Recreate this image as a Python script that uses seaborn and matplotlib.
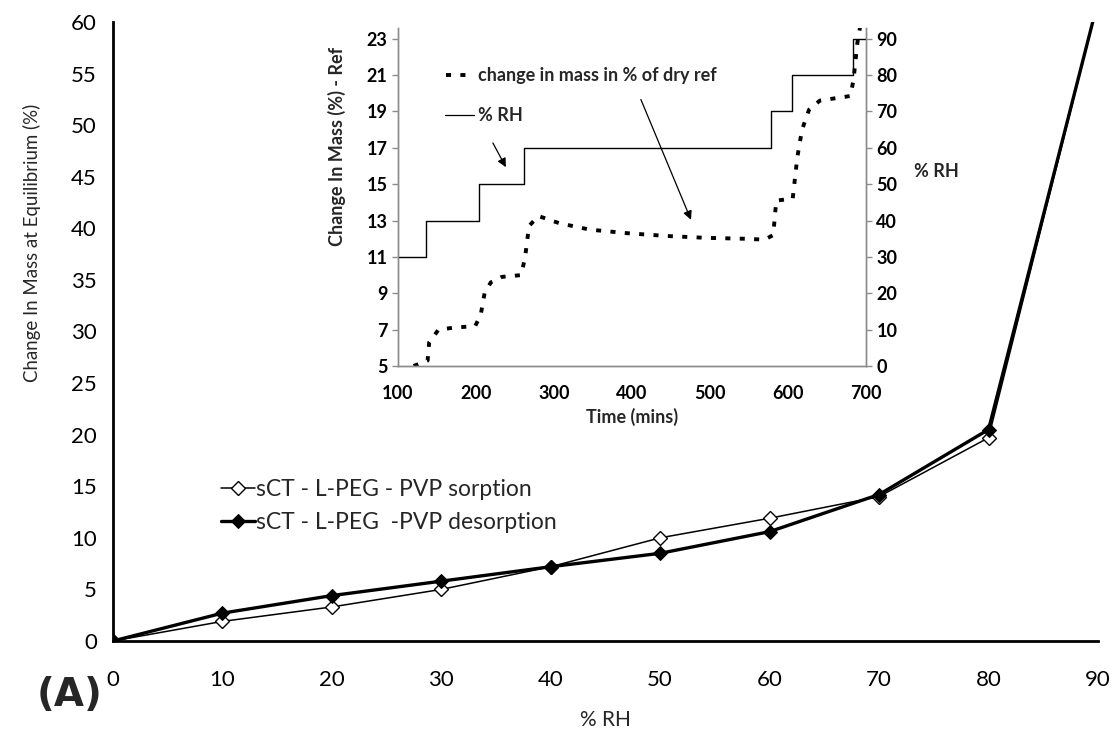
import matplotlib
matplotlib.use("Agg")
import matplotlib.pyplot as plt
import seaborn as sns
import pandas as pd
from matplotlib.lines import Line2D

# ---- main chart data ----
rh = [0, 10, 20, 30, 40, 50, 60, 70, 80, 90]
sorption = [0, 1.9, 3.3, 5.0, 7.2, 10.0, 11.9, 14.0, 19.7, 62]
desorption = [0, 2.7, 4.4, 5.8, 7.2, 8.5, 10.6, 14.2, 20.5, 62]
main_xticks = [0, 10, 20, 30, 40, 50, 60, 70, 80, 90]
main_yticks = [0, 5, 10, 15, 20, 25, 30, 35, 40, 45, 50, 55, 60]

# ---- inset data ----
step_time = [100, 136, 204, 261, 578, 605, 683, 700]
step_rh = [30, 40, 50, 60, 70, 80, 90, 90]
mass_time = [120, 138, 140, 152, 170, 199, 206, 211, 219, 233, 258, 263, 268, 280,
             307, 346, 395, 445, 494, 543, 570, 581, 585, 606, 612, 618, 627, 641,
             680, 684, 689, 693]
mass_change = [5.0, 5.3, 6.3, 7.0, 7.1, 7.2, 7.8, 9.0, 9.6, 9.9, 10.0, 11.0, 12.7, 13.25,
               12.85, 12.5, 12.3, 12.15, 12.05, 12.0, 11.95, 12.2, 14.1, 14.2, 16.5, 18.0,
               19.1, 19.6, 19.85, 20.75, 22.8, 23.8]
inset_xticks = [100, 200, 300, 400, 500, 600, 700]
inset_yticks = [5, 7, 9, 11, 13, 15, 17, 19, 21, 23]
inset_rticks = [0, 10, 20, 30, 40, 50, 60, 70, 80, 90]

sns.set_style("white")
plt.rcParams["font.family"] = ["Lato", "DejaVu Sans"]

fig = plt.figure(figsize=(11.17, 7.32), dpi=100)
ax = fig.add_axes([0.101, 0.1243, 0.882, 0.8457])

df_s = pd.DataFrame({"rh": rh, "v": sorption})
df_d = pd.DataFrame({"rh": rh, "v": desorption})
sns.lineplot(data=df_s, x="rh", y="v", ax=ax, color="black", lw=1.1, marker="D",
             markersize=7.5, markerfacecolor="white", markeredgecolor="black",
             markeredgewidth=1.0, estimator=None, label="sCT - L-PEG - PVP sorption")
sns.lineplot(data=df_d, x="rh", y="v", ax=ax, color="black", lw=2.4, marker="D",
             markersize=7.5, markerfacecolor="black", markeredgecolor="black",
             estimator=None, label="sCT - L-PEG  -PVP desorption")

ax.set_xlim(0, 90)
ax.set_ylim(0, 60)
ax.set_xticks(main_xticks)
ax.set_yticks(main_yticks)
for s in ["top", "right"]:
    ax.spines[s].set_visible(False)
for s in ["left", "bottom"]:
    ax.spines[s].set_color("black")
    ax.spines[s].set_linewidth(2.0)
ax.tick_params(axis="x", direction="out", length=7, width=1.2, pad=14, labelsize=16, colors="black")
ax.tick_params(axis="y", direction="out", length=5.5, width=1.2, pad=6, labelsize=16, colors="black")
ax.set_xlabel("% RH", fontsize=15, labelpad=14)
ax.set_ylabel("Change In Mass at Equilibrium (%)", fontsize=13.4)
ax.yaxis.set_label_coords(-0.073, 0.643)

leg = ax.legend(loc="upper left", bbox_to_anchor=(0.1, 0.277), frameon=False,
                fontsize=16.5, handlelength=1.5, handletextpad=0.05, labelspacing=0.55,
                borderaxespad=0)

fig.text(0.062, 0.05, "(A)", fontsize=28, fontweight="bold", ha="center", va="center",
         family="DejaVu Sans")

# ---- inset ----
ax2 = fig.add_axes([0.3563, 0.5, 0.4190, 0.462])
ax3 = ax2.twinx()
df_m = pd.DataFrame({"t": mass_time, "m": mass_change})
df_r = pd.DataFrame({"t": step_time, "r": step_rh})
sns.lineplot(data=df_m, x="t", y="m", ax=ax2, color="black", lw=2.8,
             linestyle=(0, (1.3, 2.4)), estimator=None)
sns.lineplot(data=df_r, x="t", y="r", ax=ax3, color="black", lw=1.0,
             drawstyle="steps-post", estimator=None)

ax2.set_xlim(100, 700)
ax2.set_ylim(5, 23.6)
ax3.set_ylim(0, 93)
ax2.set_xticks(inset_xticks)
ax2.set_yticks(inset_yticks)
ax3.set_yticks(inset_rticks)
for a in (ax2, ax3):
    a.spines["top"].set_visible(False)
    for s in ["left", "right", "bottom"]:
        a.spines[s].set_color("#8c8c8c")
        a.spines[s].set_linewidth(1.0)
    a.tick_params(direction="out", length=4, width=1.0, color="#8c8c8c",
                  labelsize=13, labelcolor="black")
ax2.tick_params(axis="x", length=3, pad=11)
for lab in ax2.get_xticklabels() + ax2.get_yticklabels() + ax3.get_yticklabels():
    lab.set_fontweight("bold")
ax2.set_xlabel("Time (mins)", fontsize=13, fontweight="bold", labelpad=4)
ax2.set_ylabel("Change In Mass (%) - Ref", fontsize=13, fontweight="bold")
ax2.yaxis.set_label_coords(-0.111, 0.648)
ax3.set_ylabel("% RH", fontsize=13, fontweight="bold", rotation=0)
ax3.yaxis.set_label_coords(1.15, 0.6)
ax2.patch.set_alpha(0)
ax3.patch.set_alpha(0)

# inset legend-like annotations
ax2.add_line(Line2D([161, 190], [21, 21], color="black",
                    lw=2.8, linestyle=(0, (1.3, 2.4))))
ax2.text(203, 21, "change in mass in % of dry ref", fontsize=13, fontweight="bold",
         va="center", ha="left")
ax2.add_line(Line2D([160, 198], [18.8, 18.8], color="black", lw=0.9))
ax2.text(203, 18.8, "% RH", fontsize=13, fontweight="bold", va="center", ha="left")
ax2.annotate("", xy=(240, 15.8), xytext=(220, 17.4),
             arrowprops=dict(arrowstyle="-|>", color="black", lw=0.9, mutation_scale=13))
ax2.annotate("", xy=(477, 12.9), xytext=(410, 19.8),
             arrowprops=dict(arrowstyle="-|>", color="black", lw=0.9, mutation_scale=13))
for a in (ax2, ax3):
    if a.get_legend() is not None:
        a.get_legend().remove()

fig.savefig("out.png", dpi=100)
